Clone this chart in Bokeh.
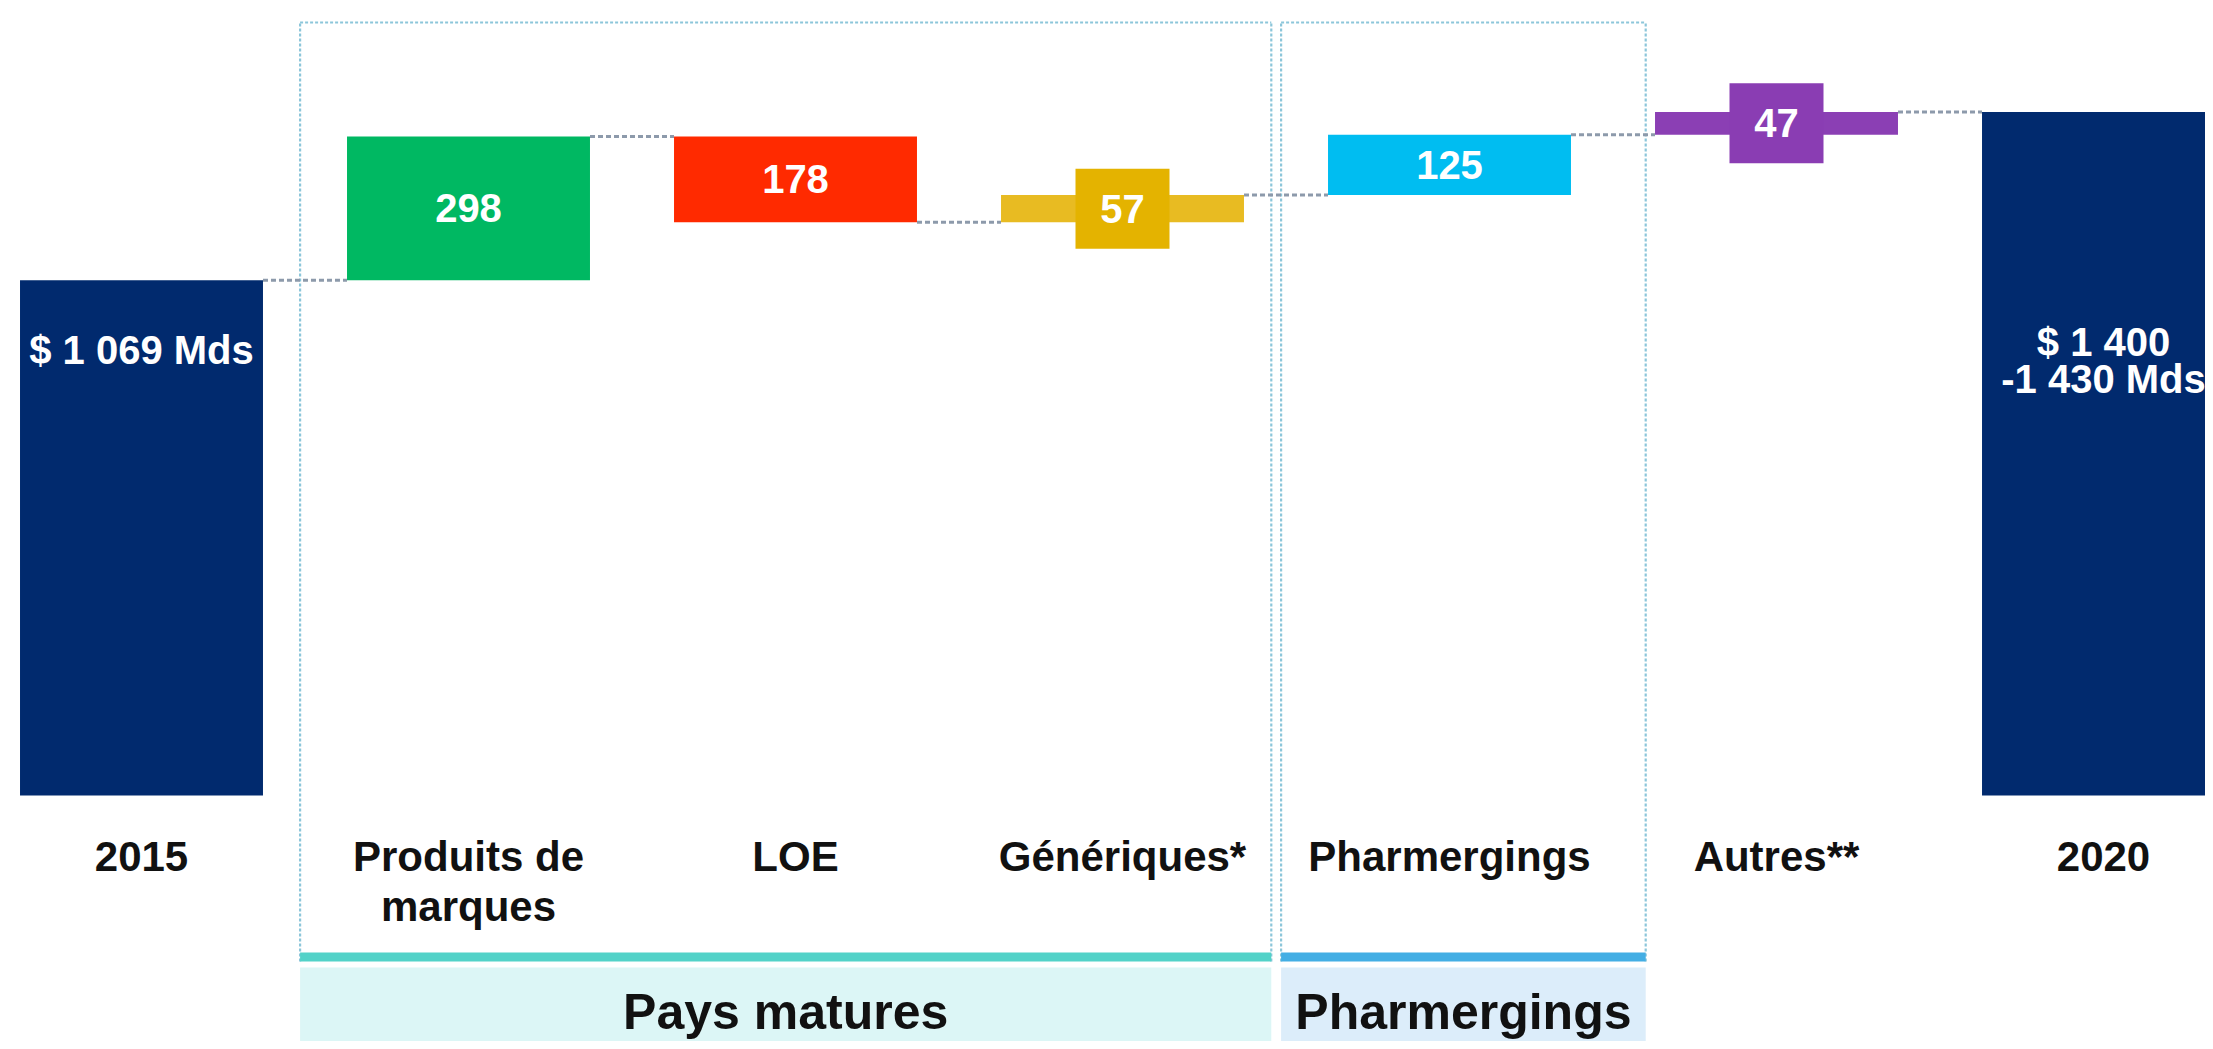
import numpy as np
from bokeh.plotting import figure
from bokeh.models import Range1d
from bokeh.core.properties import value
from bokeh.embed import file_html
from bokeh.resources import INLINE

# ---------------- data ----------------
categories = ["2015", "Produits de\nmarques", "LOE", "Génériques*", "Pharmergings", "Autres**", "2020"]
start_total = 1069
changes = [298, -178, 57, 125, 47]
change_labels = ["298", "178", "57", "125", "47"]
change_styles = ["block", "block", "marker", "block", "marker"]
total_labels = ["$ 1 069 Mds", "$ 1 400\n-1 430 Mds"]
group_names = ["Pays matures", "Pharmergings"]
group_first = [1, 4]
group_last = [3, 4]

# ---------------- styles ----------------
FONT = "Liberation Sans"
NAVY = "#012a6e"
change_colors = ["#00b862", "#ff2a00", "#e8bb22", "#00bdf1", "#8b3fb4"]
marker_colors = ["#00b862", "#ff2a00", "#e4b300", "#00bdf1", "#8a3db3"]
group_line_colors = ["#52d2c8", "#43aee4"]
group_band_colors = ["#dcf6f6", "#dcedfa"]
BOX_COLOR = "#8cc6da"
CONN_COLOR = "#8d9aab"

# ---------------- layout ----------------
W, H = 2205, 1041
SX = 327.0          # px per category step
SY = 0.48203        # px per value unit
REF_X0, REF_Y0 = 141.0, 795.0
xmin = (0 - REF_X0) / SX
xmax = xmin + W / SX
ymax = REF_Y0 / SY
ymin = ymax - H / SY
BAR_W = 0.743


def ydat(ref_y):
    return (REF_Y0 - ref_y) / SY


p = figure(width=W, height=H, x_range=Range1d(xmin, xmax), y_range=Range1d(ymin, ymax),
           output_backend="svg", toolbar_location=None, min_border=0)
p.axis.visible = False
p.grid.visible = False
p.outline_line_color = None
p.background_fill_color = "white"
p.border_fill_color = "white"

n = len(categories)
levels = np.concatenate([[start_total], start_total + np.cumsum(changes)])
end_total = levels[-1]

# group boxes, bands
box_top = ydat(22)
line_top, line_bot = ydat(952), ydat(961)
band_top = ydat(967)
lefts, rights = [], []
for g in range(len(group_names)):
    lefts.append(group_first[g] - 0.515)
for g in range(len(group_names)):
    r = group_last[g] + 0.6
    if g + 1 < len(group_names):
        r = min(r, lefts[g + 1] - 0.03)
    rights.append(r)

xs, ys = [], []
for g in range(len(group_names)):
    xs += [[lefts[g], lefts[g]], [rights[g], rights[g]], [lefts[g], rights[g]]]
    ys += [[line_bot, box_top], [line_bot, box_top], [box_top, box_top]]
p.multi_line(xs, ys, line_color=BOX_COLOR, line_width=2.2, line_dash="3 2")

p.quad(left=lefts, right=rights, top=[line_top] * len(lefts), bottom=[line_bot] * len(lefts),
       fill_color=group_line_colors, line_color=None)
p.quad(left=lefts, right=rights, top=[band_top] * len(lefts), bottom=[ymin] * len(lefts),
       fill_color=group_band_colors, line_color=None)
p.text(x=[(l + r) / 2 for l, r in zip(lefts, rights)], y=[ydat(1011)] * len(lefts), text=group_names,
       text_font=value(FONT), text_font_style="bold", text_font_size="50px",
       text_align="center", text_baseline="middle", text_color="#111111")

# connectors
cx0 = [i + BAR_W / 2 for i in range(n - 1)]
cx1 = [i + 1 - BAR_W / 2 for i in range(n - 1)]
p.segment(x0=cx0, x1=cx1, y0=list(levels), y1=list(levels), line_color=CONN_COLOR,
          line_width=3, line_dash="5 3")

# totals
p.vbar(x=[0, n - 1], width=BAR_W, bottom=0, top=[start_total, end_total], fill_color=NAVY, line_color=None)
p.text(x=[0, n - 1], y=[start_total, start_total], text=total_labels, y_offset=[70, 80],
       text_font=value(FONT), text_font_style="bold", text_font_size="40px",
       text_align="center", text_baseline="middle", text_color="white", text_line_height=0.85)

# changes
for i, (d, st) in enumerate(zip(changes, change_styles)):
    x = i + 1
    lo, hi = min(levels[i], levels[i + 1]), max(levels[i], levels[i + 1])
    p.vbar(x=[x], width=BAR_W, bottom=[lo], top=[hi], fill_color=change_colors[i], line_color=None)
    yc = (lo + hi) / 2
    if st == "marker":
        p.rect(x=[x], y=[yc], width=94, height=80, width_units="screen", height_units="screen",
               fill_color=marker_colors[i], line_color=None)
    p.text(x=[x], y=[yc], text=[change_labels[i]], text_font=value(FONT), text_font_style="bold",
           text_font_size="40px", text_align="center", text_baseline="middle", text_color="white")

# category labels, one text per line so that all first lines align
lx, ltxt, loff = [], [], []
for i, cat in enumerate(categories):
    for k, line in enumerate(cat.split("\n")):
        lx.append(i)
        ltxt.append(line)
        loff.append(61 + 50 * k)
p.text(x=lx, y=[0] * len(lx), text=ltxt, y_offset=loff,
       text_font=value(FONT), text_font_style="bold", text_font_size="42px",
       text_align="center", text_baseline="middle", text_color="#111111")

open("out.html", "w").write(file_html(p, INLINE))
